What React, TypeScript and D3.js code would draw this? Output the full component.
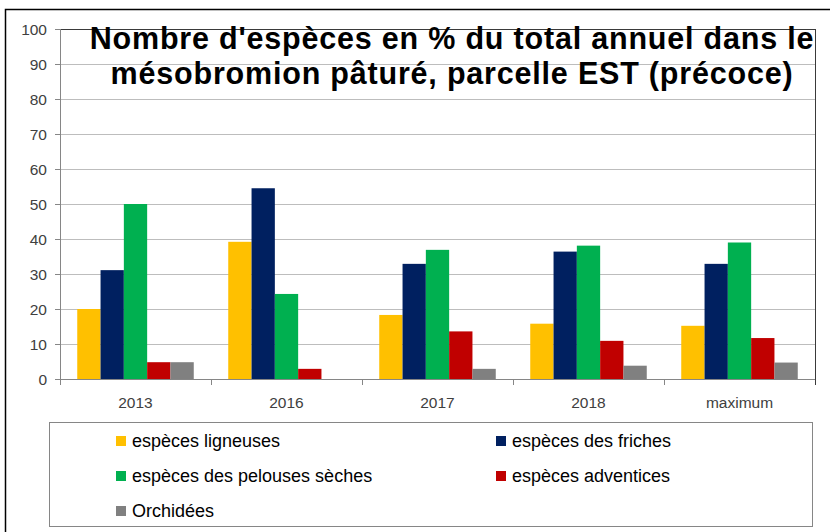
import { useMemo } from 'react';
import * as d3 from 'd3';

const categories = ['2013', '2016', '2017', '2018', 'maximum'];

const ligneuses = [20, 39.2, 18.3, 15.8, 15.2];
const friches = [31.1, 54.5, 32.9, 36.4, 32.9];
const pelouses = [50, 24.3, 36.9, 38.1, 39];
const adventices = [4.8, 2.9, 13.6, 10.9, 11.7];
const orchidees = [4.8, 0, 2.9, 3.8, 4.7];

const seriesNames = [
  'espèces ligneuses',
  'espèces des friches',
  'espèces des pelouses sèches',
  'espèces adventices',
  'Orchidées',
];
const seriesValues = [ligneuses, friches, pelouses, adventices, orchidees];
const seriesColors = ['#FFC000', '#002060', '#00B050', '#C00000', '#808080'];

const yTicks = [0, 10, 20, 30, 40, 50, 60, 70, 80, 90, 100];

const titleLines = [
  "Nombre d'espèces en % du total annuel dans le",
  'mésobromion pâturé, parcelle EST (précoce)',
];

const W = 830;
const H = 532;
const plot = { left: 60, right: 815, top: 29, bottom: 379 };
const font = '"Liberation Sans", Arial, sans-serif';

const App = () => {
  const x0 = useMemo(
    () => d3.scaleBand<string>().domain(categories).range([plot.left, plot.right]).padding(0),
    []
  );
  const x1 = useMemo(
    () =>
      d3
        .scaleBand<number>()
        .domain(d3.range(seriesNames.length))
        .range([0, x0.bandwidth()])
        .paddingInner(0)
        .paddingOuter(0.74),
    [x0]
  );
  const y = useMemo(() => d3.scaleLinear().domain([0, 100]).range([plot.bottom, plot.top]), []);

  // legend positions: two columns, three rows
  const legendCols = [116, 496];
  const legendRows = [441, 476, 511];

  return (
    <div style={{ position: 'absolute', left: 0, top: 0 }}>
      <svg width={W} height={H} style={{ display: 'block', background: '#fff' }}>
        {/* outer frame */}
        <rect x={5.5} y={9.5} width={W} height={H} fill="none" stroke="#000" strokeWidth={1.5} />

        {/* gridlines */}
        {yTicks.slice(1).map((t) => (
          <line key={t} x1={plot.left} x2={plot.right} y1={y(t) + 0.5} y2={y(t) + 0.5} stroke="#bdbdbd" strokeWidth={1} />
        ))}
        <line x1={plot.left} x2={plot.right + 0.5} y1={plot.top + 0.5} y2={plot.top + 0.5} stroke="#3a3a3a" />
        <line x1={plot.right + 0.5} x2={plot.right + 0.5} y1={plot.top} y2={plot.bottom + 6} stroke="#3a3a3a" />

        {/* bars */}
        {categories.map((c, ci) => (
          <g key={c} transform={`translate(${x0(c)},0)`}>
            {seriesValues.map((vals, si) =>
              vals[ci] > 0 ? (
                <rect
                  key={si}
                  x={x1(si)}
                  y={y(vals[ci])}
                  width={x1.bandwidth()}
                  height={y(0) - y(vals[ci])}
                  fill={seriesColors[si]}
                />
              ) : null
            )}
          </g>
        ))}

        {/* y axis */}
        <line x1={plot.left + 0.5} x2={plot.left + 0.5} y1={plot.top} y2={plot.bottom} stroke="#868686" />
        {yTicks.map((t) => (
          <g key={t}>
            <line x1={plot.left - 5} x2={plot.left} y1={y(t) + 0.5} y2={y(t) + 0.5} stroke="#868686" />
            <text
              x={47}
              y={y(t) + 5.5}
              textAnchor="end"
              fontFamily={font}
              fontSize={15.5}
              fill="#404040"
            >
              {t}
            </text>
          </g>
        ))}

        {/* x axis */}
        <line x1={plot.left} x2={plot.right} y1={plot.bottom + 0.5} y2={plot.bottom + 0.5} stroke="#868686" />
        {categories.map((c) => (
          <line
            key={'t' + c}
            x1={(x0(c) as number) + 0.5}
            x2={(x0(c) as number) + 0.5}
            y1={plot.bottom}
            y2={plot.bottom + 6}
            stroke="#868686"
          />
        ))}
        {categories.map((c) => (
          <text
            key={'l' + c}
            x={(x0(c) as number) + x0.bandwidth() / 2}
            y={408}
            textAnchor="middle"
            fontFamily={font}
            fontSize={15.5}
            fill="#404040"
          >
            {c}
          </text>
        ))}

        {/* title */}
        {titleLines.map((line, i) => (
          <text
            key={i}
            x={452}
            y={49 + i * 35}
            textAnchor="middle"
            fontFamily={font}
            fontWeight="bold"
            fontSize={30.5}
            letterSpacing={0.8}
            fill="#000"
          >
            {line}
          </text>
        ))}

        {/* legend */}
        <rect x={49.5} y={422.5} width={763} height={104} fill="#fff" stroke="#868686" />
        {seriesNames.map((name, i) => {
          const cx = legendCols[i % 2];
          const cy = legendRows[Math.floor(i / 2)];
          return (
            <g key={name}>
              <rect x={cx} y={cy - 5} width={10} height={10} fill={seriesColors[i]} />
              <text x={cx + 16} y={cy + 6} fontFamily={font} fontSize={18} fill="#000">
                {name}
              </text>
            </g>
          );
        })}
      </svg>
    </div>
  );
};

export default App;
